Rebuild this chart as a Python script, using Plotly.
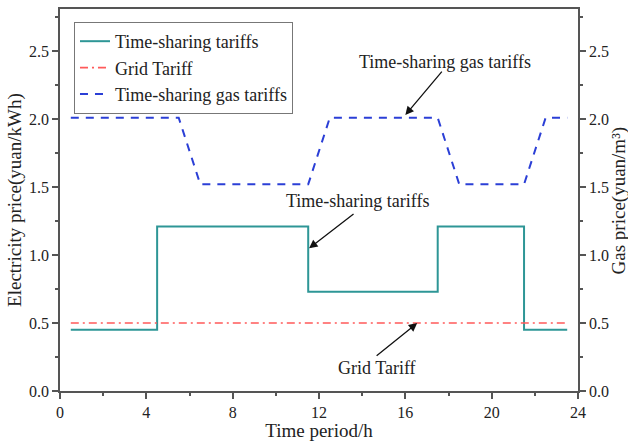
import plotly.graph_objects as go

# Hourly data (x at mid-hour)
hours = [h + 0.5 for h in range(24)]
elec_tariff = [0.45, 0.45, 0.45, 0.45, 1.21, 1.21, 1.21, 1.21, 1.21, 1.21, 1.21,
               0.73, 0.73, 0.73, 0.73, 0.73, 0.73, 1.21, 1.21, 1.21, 1.21,
               0.45, 0.45, 0.45]
grid_tariff = [0.5] * 24
gas_tariff = [2.01, 2.01, 2.01, 2.01, 2.01, 2.01, 1.52, 1.52, 1.52, 1.52, 1.52, 1.52,
              2.01, 2.01, 2.01, 2.01, 2.01, 2.01, 1.52, 1.52, 1.52, 1.52, 2.01, 2.01]

FONT = "Liberation Serif"
AX = "#555555"
TXT = "#222222"

fig = go.Figure()
fig.add_trace(go.Scatter(x=hours, y=elec_tariff, mode="lines", name="Time-sharing tariffs",
                         line=dict(color="#2E9696", width=2, shape="hv")))
fig.add_trace(go.Scatter(x=hours, y=grid_tariff, mode="lines", name="Grid Tariff",
                         line=dict(color="#FF5A5A", width=1.6, dash="8px,4px,2px,4px")))
fig.add_trace(go.Scatter(x=hours, y=gas_tariff, mode="lines", name="Time-sharing gas tariffs",
                         yaxis="y2",
                         line=dict(color="#2B3FD6", width=2, dash="8px,7px")))

axis_common = dict(showline=True, linecolor=AX, linewidth=1.5, ticks="outside",
                   tickcolor=AX, ticklen=6, tickwidth=1.5, showgrid=False, zeroline=False,
                   automargin=False,
                   tickfont=dict(family=FONT, size=16, color=TXT))

fig.update_layout(
    width=628, height=441,
    margin=dict(l=60, r=50, t=9, b=50),
    paper_bgcolor="white", plot_bgcolor="white",
    font=dict(family=FONT, color=TXT),
    showlegend=True,
    legend=dict(x=0.027, y=0.966, xanchor="left", yanchor="top",
                bordercolor="#777777", borderwidth=1, bgcolor="white",
                font=dict(family=FONT, size=18, color=TXT),
                tracegroupgap=0),
    xaxis=dict(range=[0, 24], tickvals=[0, 4, 8, 12, 16, 20, 24], mirror=True,
               minor=dict(dtick=2, tick0=0, ticks="outside", ticklen=3, tickcolor=AX),
               title=dict(text="Time period/h", font=dict(family=FONT, size=19, color=TXT),
                          standoff=2),
               **axis_common),
    yaxis=dict(range=[0, 2.81], tickvals=[0, 0.5, 1.0, 1.5, 2.0, 2.5], tickformat=".1f",
               minor=dict(dtick=0.25, tick0=0, ticks="outside", ticklen=3, tickcolor=AX),
               **axis_common),
    yaxis2=dict(range=[0, 2.81], tickvals=[0, 0.5, 1.0, 1.5, 2.0, 2.5], tickformat=".1f",
                overlaying="y", side="right",
                minor=dict(dtick=0.25, tick0=0, ticks="outside", ticklen=3, tickcolor=AX),
                **axis_common),
)

# Y-axis titles as rotated text
ytitle = dict(showarrow=False, xref="paper", yref="paper", y=0.5, textangle=-90,
              xanchor="center", yanchor="middle", font=dict(family=FONT, size=19, color=TXT))
fig.add_annotation(x=-0.087, text="Electricity price(yuan/kWh)", **ytitle)
fig.add_annotation(x=1.08, text="Gas price(yuan/m³)", **ytitle)

arrow = dict(showarrow=True, arrowhead=2, arrowsize=1.3, arrowwidth=1.3, arrowcolor="#111111",
             axref="x", ayref="y", xref="x", yref="y", text="")
fig.add_annotation(x=16.0, y=2.03, ax=17.75, ay=2.36, **arrow)
fig.add_annotation(x=11.54, y=1.05, ax=13.67, ay=1.31, **arrow)
fig.add_annotation(x=16.55, y=0.5, ax=14.6, ay=0.25, **arrow)

txt = dict(showarrow=False, xref="x", yref="y", font=dict(family=FONT, size=18, color=TXT))
fig.add_annotation(x=17.85, y=2.42, text="Time-sharing gas tariffs", **txt)
fig.add_annotation(x=13.79, y=1.395, text="Time-sharing tariffs", **txt)
fig.add_annotation(x=14.69, y=0.166, text="Grid Tariff", **txt)

fig.write_html("out.html")
